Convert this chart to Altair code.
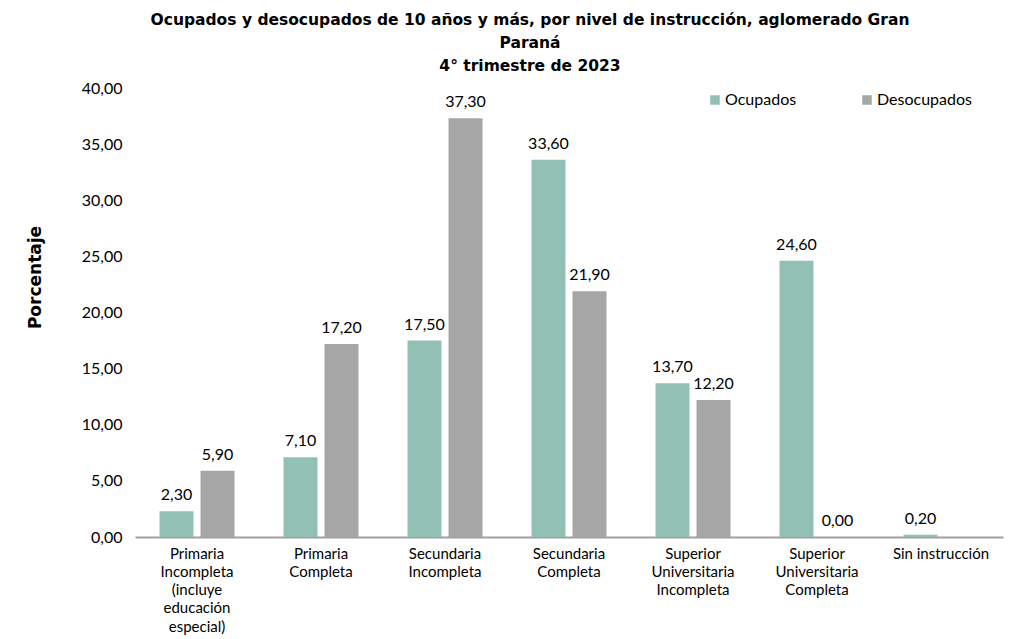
import altair as alt
import pandas as pd

categories = [
    "Primaria|Incompleta|(incluye|educación|especial)",
    "Primaria|Completa",
    "Secundaria|Incompleta",
    "Secundaria|Completa",
    "Superior|Universitaria|Incompleta",
    "Superior|Universitaria|Completa",
    "Sin instrucción",
]
ocupados = [2.30, 7.10, 17.50, 33.60, 13.70, 24.60, 0.20]
desocupados = [5.90, 17.20, 37.30, 21.90, 12.20, 0.00, None]
series = ["Ocupados", "Desocupados"]
colors = ["#93c0b5", "#a6a6a6"]

rows = []
for c, o, d in zip(categories, ocupados, desocupados):
    rows.append({"cat": c, "serie": "Ocupados", "valor": o})
    if d is not None:
        rows.append({"cat": c, "serie": "Desocupados", "valor": d})
df = pd.DataFrame(rows)
df["etiqueta"] = df["valor"].map(lambda v: f"{v:.2f}".replace(".", ","))

FONT = "Lato"
TFONT = "DejaVu Sans"

x = alt.X("cat:N", sort=categories, title=None,
          scale=alt.Scale(paddingInner=0.395, paddingOuter=0.1975),
          axis=alt.Axis(labelExpr="split(datum.label, '|')", labelAngle=0,
                        labelFontSize=15, labelFont=FONT, labelColor="#000000",
                        labelLineHeight=18.3, labelPadding=9, ticks=False,
                        domainColor="#a0a0a0", domainWidth=2, labelBaseline="top"))
xo = alt.XOffset("serie:N", sort=series, scale=alt.Scale(paddingInner=0.1707, paddingOuter=0))
y = alt.Y("valor:Q", title="Porcentaje",
          scale=alt.Scale(domain=[0, 40], nice=False),
          axis=alt.Axis(values=list(range(0, 41, 5)), grid=False, domain=False, ticks=False,
                        labelExpr="replace(format(datum.value, '.2f'), '.', ',')",
                        labelFontSize=16, labelFont=FONT, labelColor="#000000", labelPadding=13,
                        titleFont=TFONT, titleFontSize=17, titleFontWeight="bold",
                        titleColor="#000000", titleX=-100, titleY=189, titleAngle=270,
                        titleAlign="center", titleBaseline="middle"))

base = alt.Chart(df)
bars = base.mark_bar().encode(
    x=x, xOffset=xo, y=y,
    color=alt.Color("serie:N", sort=series, title=None,
                    scale=alt.Scale(domain=series, range=colors),
                    legend=alt.Legend(orient="none", legendX=572, legendY=4, direction="horizontal",
                                      symbolType="square", symbolSize=90, labelFontSize=16,
                                      labelFont=FONT, labelColor="#000000", columnPadding=62,
                                      labelOffset=2, symbolStrokeWidth=0)),
)
labels = base.mark_text(baseline="bottom", dy=-8, fontSize=16, font=FONT, color="#000000").encode(
    x=x, xOffset=xo, y=y, text="etiqueta:N"
)

chart = alt.layer(bars, labels).properties(
    width=868, height=449,
    autosize=alt.AutoSizeParams(type="none"),
    padding={"left": 127, "top": 80, "right": 12, "bottom": 102},
    title=alt.TitleParams(
        ["Ocupados y desocupados de 10 años y más, por nivel de instrucción, aglomerado Gran",
         "Paraná", "4° trimestre  de 2023"],
        font=TFONT, fontSize=15.5, fontWeight="bold", color="#000000", anchor="middle",
        lineHeight=23, dx=-39, offset=6),
).configure_view(stroke=None)

chart.save("out.html", embed_options={"renderer": "svg", "actions": False})
